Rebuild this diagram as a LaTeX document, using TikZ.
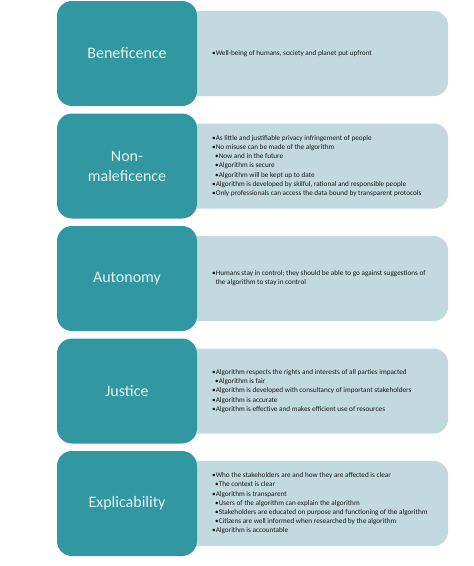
\documentclass[tikz,border=0pt]{standalone}
\usepackage{fontspec}
\setmainfont{Carlito}
\definecolor{tealbox}{RGB}{49,151,160}
\definecolor{lightbox}{RGB}{194,217,224}
\definecolor{labeltext}{RGB}{228,243,244}
\newcommand{\sub}{\hspace*{3pt}}
\begin{document}
\begin{tikzpicture}[x=1pt, y=-1pt,
  principle/.style={fill=tealbox, rounded corners=15pt, minimum width=140pt, minimum height=105pt, align=center, text=labeltext, font=\fontsize{16}{20}\selectfont, inner sep=0pt},
  detail/.style={fill=lightbox, rounded corners=14pt, minimum width=268pt, minimum height=85pt, inner sep=0pt},
  itemtext/.style={anchor=west, align=left, text=black!90, font=\fontsize{7.2}{9.2}\selectfont, inner sep=0pt}
]
  \useasboundingbox (0,0) rectangle (474,566);

  % Beneficence
  \node[detail] (benefd) at (314, 53.5) {};
  \node[principle] (benef) at (127, 53.5) {Beneficence};
  \node[itemtext] (benefi) at (212, 53.5) {•Well-being of humans, society and planet put upfront};

  % Non-maleficence
  \node[detail] (nonmald) at (314, 166) {};
  \node[principle] (nonmal) at (127, 166) {Non-\\maleficence};
  \node[itemtext] (nonmali) at (212, 166) {•As little and justifiable privacy infringement of people\\
    •No misuse can be made of the algorithm\\
    \sub•Now and in the future\\
    \sub•Algorithm is secure\\
    \sub•Algorithm will be kept up to date\\
    •Algorithm is developed by skilful, rational and responsible people\\
    •Only professionals can access the data bound by transparent protocols};

  % Autonomy
  \node[detail] (autod) at (314, 278.5) {};
  \node[principle] (auto) at (127, 278.5) {Autonomy};
  \node[itemtext] (autoi) at (212, 278.5) {•Humans stay in control; they should be able to go against suggestions of\\
    \hphantom{•}the algorithm to stay in control};

  % Justice
  \node[detail] (justd) at (314, 391) {};
  \node[principle] (just) at (127, 391) {Justice};
  \node[itemtext] (justi) at (212, 391) {•Algorithm respects the rights and interests of all parties impacted\\
    \sub•Algorithm is fair\\
    •Algorithm is developed with consultancy of important stakeholders\\
    •Algorithm is accurate\\
    •Algorithm is effective and makes efficient use of resources};

  % Explicability
  \node[detail] (explid) at (314, 503.5) {};
  \node[principle] (expli) at (127, 503.5) {Explicability};
  \node[itemtext] (explii) at (212, 503.5) {•Who the stakeholders are and how they are affected is clear\\
    \sub•The context is clear\\
    •Algorithm is transparent\\
    \sub•Users of the algorithm can explain the algorithm\\
    \sub•Stakeholders are educated on purpose and functioning of the algorithm\\
    \sub•Citizens are well informed when researched by the algorithm\\
    •Algorithm is accountable};

\end{tikzpicture}
\end{document}
